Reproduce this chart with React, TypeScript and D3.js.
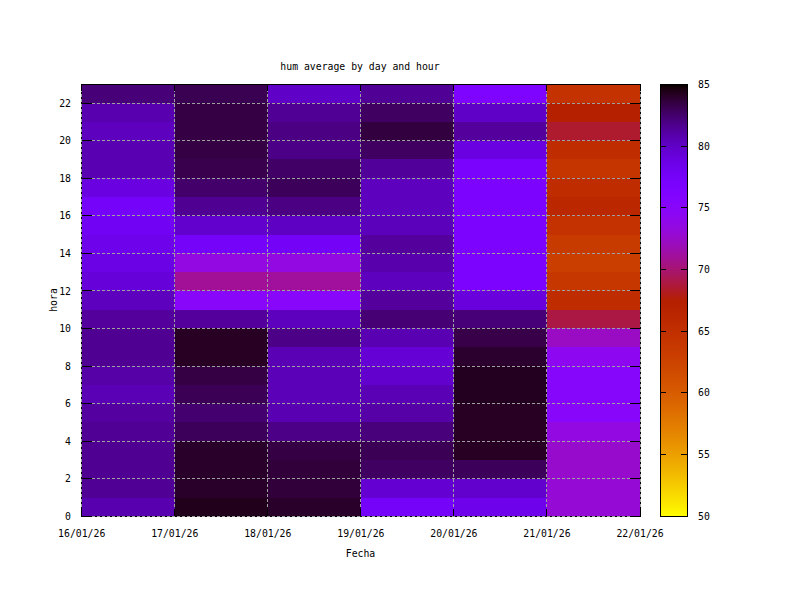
import React from "react";
import * as d3 from "d3";

const title = "hum average by day and hour";
const xLabel = "Fecha";
const yLabel = "hora";

const dayStarts = ["2026-01-16", "2026-01-17", "2026-01-18", "2026-01-19", "2026-01-20", "2026-01-21", "2026-01-22"];
const hourTicks = [0, 2, 4, 6, 8, 10, 12, 14, 16, 18, 20, 22];
const cbTicks = [50, 55, 60, 65, 70, 75, 80, 85];

// humidity per hour (0..22) for each day
const day16 = [80.8, 81.5, 81.6, 81.6, 81.5, 81.2, 80.6, 81.0, 81.6, 81.6, 81.3, 80.3, 79.3, 78.8, 78.5, 78.0, 77.5, 79.0, 80.7, 80.7, 80.3, 80.8, 82.3];
const day17 = [84.4, 84.1, 84.1, 84.1, 83.0, 82.5, 83.1, 83.5, 84.2, 84.2, 81.3, 75.0, 71.0, 73.5, 77.5, 79.8, 81.6, 82.6, 83.3, 83.5, 83.5, 83.5, 83.2];
const day18 = [84.1, 83.7, 83.7, 83.5, 81.9, 80.7, 80.5, 80.5, 80.6, 81.9, 80.3, 75.0, 71.2, 73.5, 77.7, 80.2, 82.0, 83.0, 82.7, 81.9, 82.0, 81.5, 80.0];
const day19 = [77.5, 79.6, 82.8, 83.1, 82.2, 81.0, 80.6, 79.8, 79.5, 80.7, 82.4, 81.3, 80.3, 80.9, 81.3, 80.4, 80.3, 80.3, 81.4, 82.8, 83.6, 82.8, 81.5];
const day20 = [78.5, 79.8, 83.0, 84.2, 84.2, 84.2, 84.3, 84.3, 84.0, 83.4, 82.3, 79.2, 76.7, 76.7, 76.7, 76.7, 76.7, 76.7, 77.0, 79.0, 81.3, 80.0, 76.5];
const day21 = [73.0, 73.0, 72.7, 72.7, 73.5, 75.0, 75.3, 75.3, 74.3, 72.4, 69.0, 65.5, 64.0, 63.0, 63.5, 64.6, 66.2, 65.5, 64.3, 65.5, 68.5, 67.5, 64.6];

const series = [day16, day17, day18, day19, day20, day21];

const W = 800;
const H = 600;
const left = 81.7;
const right = 640;
const top = 84.3;
const bottom = 516.3;
const cbLeft = 660;
const cbRight = 687.3;

// gnuplot rgbformulae 7,5,15, negative
function gnuplotColor(t: number): string {
  const x = Math.max(0, Math.min(1, t));
  const r = Math.sqrt(x);
  const g = x * x * x;
  const b = Math.max(0, Math.sin(2 * Math.PI * x));
  return d3.rgb(Math.round(r * 255), Math.round(g * 255), Math.round(b * 255)).formatHex();
}

export default function App() {
  const parse = d3.utcParse("%Y-%m-%d");
  const days = dayStarts.map((d) => parse(d) as Date);
  const x = d3.scaleUtc().domain([days[0], days[days.length - 1]]).range([left, right]);
  const y = d3.scaleLinear().domain([0, 23]).range([bottom, top]);
  const c = d3.scaleSequential((t: number) => gnuplotColor(1 - t)).domain([50, 85]);
  const cy = d3.scaleLinear().domain([50, 85]).range([bottom, top]);
  const fmt = d3.utcFormat("%d/%m/%y");
  const font = "'DejaVu Sans Mono', monospace";
  const fs = 9.8;

  const cells: JSX.Element[] = [];
  series.forEach((vals, di) => {
    vals.forEach((v, h) => {
      const x0 = x(days[di]);
      const x1 = x(days[di + 1]);
      const y0 = y(h + 1);
      const y1 = y(h);
      cells.push(
        <rect key={`${di}-${h}`} x={x0} y={y0} width={x1 - x0} height={y1 - y0} fill={c(v)} shapeRendering="crispEdges" />
      );
    });
  });

  const bands: JSX.Element[] = [];
  const nb = Math.round(bottom - top);
  for (let i = 0; i < nb; i++) {
    const v0 = 50 + (35 * i) / nb;
    const v1 = 50 + (35 * (i + 1)) / nb;
    bands.push(
      <rect key={i} x={cbLeft} y={cy(v1)} width={cbRight - cbLeft} height={cy(v0) - cy(v1) + 0.5} fill={c((v0 + v1) / 2)} shapeRendering="crispEdges" />
    );
  }

  const grid = { stroke: "#a0a0a0", strokeWidth: 1, strokeDasharray: "3,2", shapeRendering: "crispEdges" as const };

  return (
    <svg width={W} height={H} style={{ position: "absolute", left: 0, top: 0, background: "#fff" }}>
      <rect x={0} y={0} width={W} height={H} fill="#fff" />
      {cells}
      {/* border */}
      <rect x={left} y={top} width={right - left} height={bottom - top} fill="none" stroke="#000" strokeWidth={1} shapeRendering="crispEdges" />
      {/* grid */}
      {days.map((d, i) => (
        <line key={`gx${i}`} x1={x(d)} x2={x(d)} y1={top} y2={bottom} {...grid} />
      ))}
      {hourTicks.map((h) => (
        <line key={`gy${h}`} x1={left} x2={right} y1={y(h)} y2={y(h)} {...grid} />
      ))}
      {/* y ticks */}
      {hourTicks.map((h) => (
        <g key={`ty${h}`}>
          <line x1={left} x2={left + 10} y1={y(h)} y2={y(h)} stroke="#000" shapeRendering="crispEdges" />
          <line x1={right} x2={right - 10} y1={y(h)} y2={y(h)} stroke="#000" shapeRendering="crispEdges" />
          <text x={71} y={y(h) + 3.6} textAnchor="end" fontFamily={font} fontSize={fs}>{h}</text>
        </g>
      ))}
      {/* x ticks */}
      {days.map((d, i) => (
        <g key={`tx${i}`}>
          <line x1={x(d)} x2={x(d)} y1={bottom} y2={bottom - 7} stroke="#000" shapeRendering="crispEdges" />
          <line x1={x(d)} x2={x(d)} y1={top} y2={top + 7} stroke="#000" shapeRendering="crispEdges" />
          <text x={x(d)} y={537} textAnchor="middle" fontFamily={font} fontSize={fs}>{fmt(d)}</text>
        </g>
      ))}
      {/* labels */}
      <text x={360} y={69.5} textAnchor="middle" fontFamily={font} fontSize={fs}>{title}</text>
      <text x={360.5} y={557} textAnchor="middle" fontFamily={font} fontSize={fs}>{xLabel}</text>
      <text transform={`translate(56.5,300) rotate(-90)`} textAnchor="middle" fontFamily={font} fontSize={fs}>{yLabel}</text>
      {/* colorbar */}
      {bands}
      <rect x={cbLeft} y={top} width={cbRight - cbLeft} height={bottom - top} fill="none" stroke="#000" strokeWidth={1} shapeRendering="crispEdges" />
      {cbTicks.map((v) => (
        <g key={`cb${v}`}>
          <line x1={cbLeft} x2={cbLeft + 6} y1={cy(v)} y2={cy(v)} stroke="#000" shapeRendering="crispEdges" />
          <line x1={cbRight} x2={cbRight - 6} y1={cy(v)} y2={cy(v)} stroke="#000" shapeRendering="crispEdges" />
          <text x={698} y={cy(v) + 3.6} textAnchor="start" fontFamily={font} fontSize={fs}>{v}</text>
        </g>
      ))}
    </svg>
  );
}
